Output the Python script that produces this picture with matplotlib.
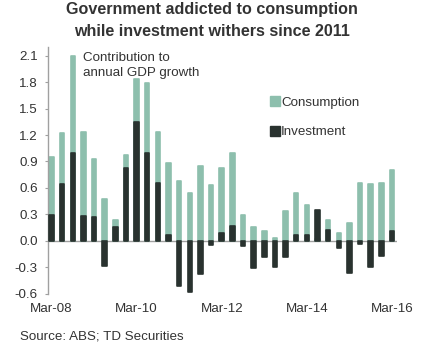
import matplotlib
matplotlib.use("Agg")
import matplotlib.pyplot as plt
import numpy as np
from matplotlib.patches import Patch

plt.rcParams['font.family'] = ['Liberation Sans', 'DejaVu Sans']

quarters = ["Mar-08", "Jun-08", "Sep-08", "Dec-08", "Mar-09", "Jun-09", "Sep-09", "Dec-09",
            "Mar-10", "Jun-10", "Sep-10", "Dec-10", "Mar-11", "Jun-11", "Sep-11", "Dec-11",
            "Mar-12", "Jun-12", "Sep-12", "Dec-12", "Mar-13", "Jun-13", "Sep-13", "Dec-13",
            "Mar-14", "Jun-14", "Sep-14", "Dec-14", "Mar-15", "Jun-15", "Sep-15", "Dec-15",
            "Mar-16"]
consumption = [0.95, 1.22, 2.10, 1.24, 0.93, 0.47, 0.23, 0.97, 1.84, 1.79, 1.24, 0.88,
               0.68, 0.54, 0.85, 0.63, 0.82, 1.00, 0.29, 0.155, 0.11, 0.03, 0.34, 0.54,
               0.40, 0.02, 0.23, 0.09, 0.20, 0.66, 0.64, 0.65, 0.80]
investment = [0.29, 0.64, 1.00, 0.28, 0.27, -0.29, 0.15, 0.83, 1.35, 1.00, 0.65, 0.07,
              -0.51, -0.58, -0.38, -0.045, 0.09, 0.17, -0.06, -0.31, -0.19, -0.30, -0.19, 0.06,
              0.07, 0.35, 0.125, -0.08, -0.37, -0.04, -0.30, -0.17, 0.11]
xtick_labels = ["Mar-08", "Mar-10", "Mar-12", "Mar-14", "Mar-16"]
yticks = [-0.6, -0.3, 0.0, 0.3, 0.6, 0.9, 1.2, 1.5, 1.8, 2.1]
title_lines = ["Government addicted to consumption", "while investment withers since 2011"]
note_lines = ["Contribution to", "annual GDP growth"]

c_cons = "#8dbfad"
c_inv = "#29322f"
grey = "#a0a0a0"
txt = "#333333"
fs = 9.6

fig = plt.figure(figsize=(4.27, 3.49), dpi=100)
ax = fig.add_axes([0.1131, 0.159, 0.8166, 0.7063])

x = np.arange(len(quarters))
w = 0.42
ax.bar(x, consumption, width=w, color=c_cons, edgecolor=c_cons, linewidth=1.2,
       joinstyle='round', zorder=2)
ax.bar(x, investment, width=w, color=c_inv, edgecolor=c_inv, linewidth=1.2,
       joinstyle='round', zorder=3)
ax.axhline(0, color=grey, linewidth=1.0, zorder=1)

ax.set_xlim(-0.3, 32.47)
ax.set_ylim(-0.6, 2.2)

for s in ["top", "right", "bottom"]:
    ax.spines[s].set_visible(False)
ax.spines["left"].set_color(grey)
ax.spines["left"].set_linewidth(1.0)
ax.spines["left"].set_bounds(-0.6, 2.2)

ax.set_yticks(yticks)
ax.set_yticklabels([f"{v:.1f}" for v in yticks])
ax.tick_params(axis='y', length=2.5, width=0.8, color=grey, pad=5,
               labelsize=fs, labelcolor=txt)
tick_pos = [quarters.index(l) for l in xtick_labels]
ax.set_xticks(tick_pos)
ax.set_xticklabels(xtick_labels)
ax.tick_params(axis='x', length=0, pad=6.5, labelsize=fs, labelcolor=txt)

for line, yb in zip(title_lines, [0.960, 0.897]):
    fig.text(0.497, yb, line, ha='center', va='baseline', fontsize=11.6,
             fontweight='bold', color=txt)
for line, yb in zip(note_lines, [0.826, 0.782]):
    fig.text(0.194, yb, line, ha='left', va='baseline', fontsize=fs, color=txt)
fig.text(0.047, 0.027, "Source: ABS; TD Securities", ha='left', va='baseline',
         fontsize=fs, color=txt)

handles = [Patch(facecolor=c_cons, edgecolor=c_cons), Patch(facecolor=c_inv, edgecolor=c_inv)]
leg = ax.legend(handles, ["Consumption", "Investment"], loc='upper left',
                bbox_to_anchor=(0.6, 0.85), frameon=False, fontsize=fs,
                handlelength=0.75, handleheight=0.75, handletextpad=0.12,
                labelspacing=1.3, labelcolor=txt)

fig.savefig("out.png", dpi=100)
